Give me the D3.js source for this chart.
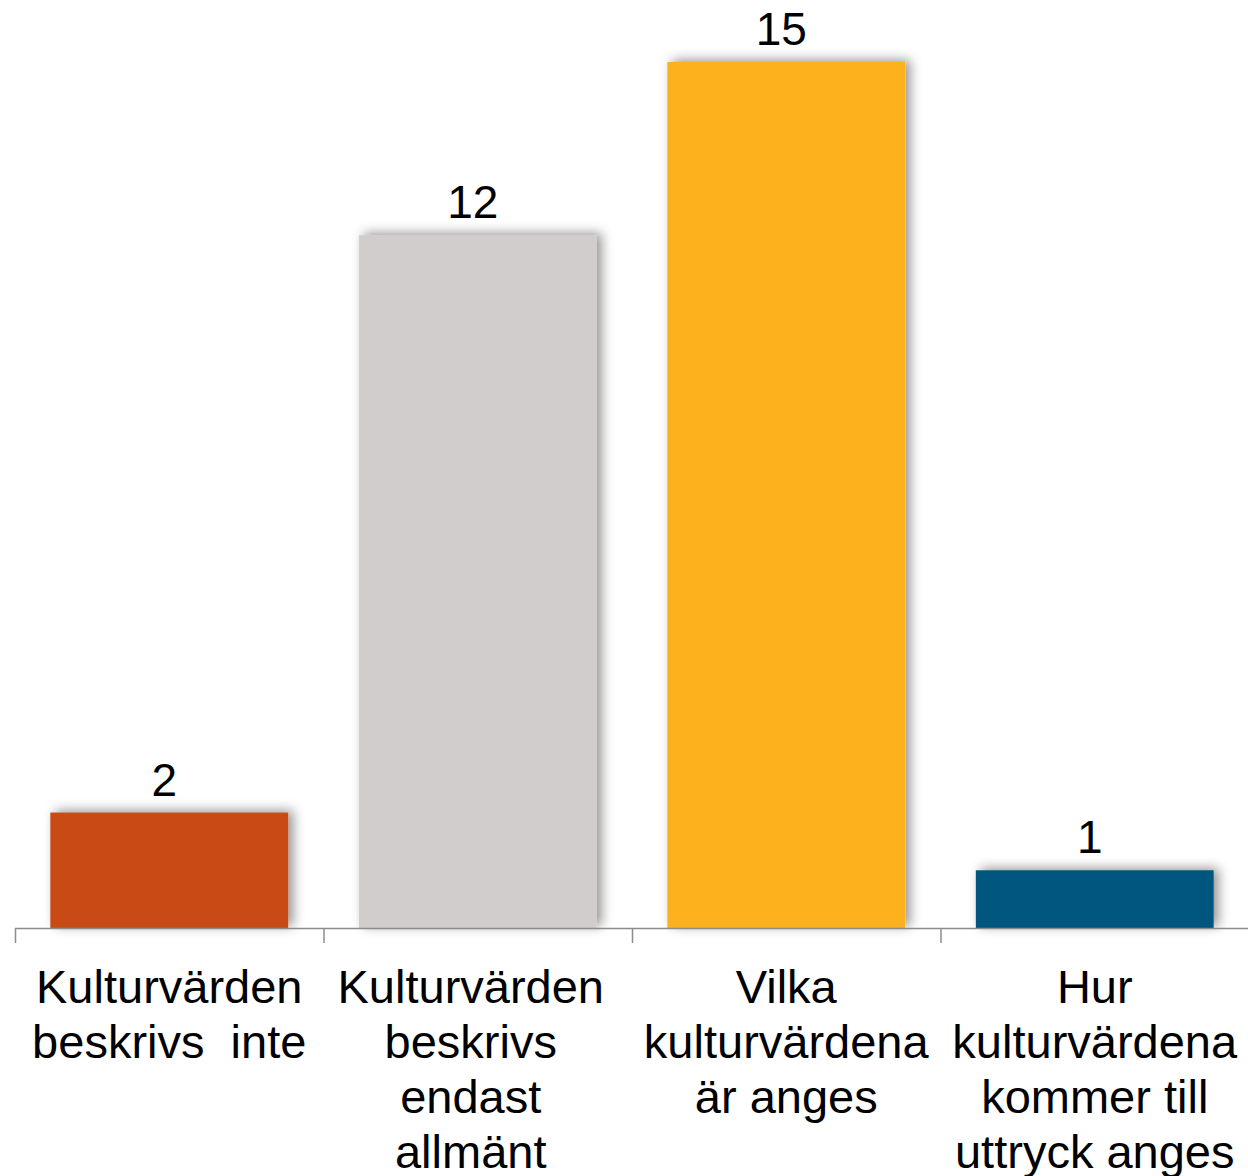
<!DOCTYPE html>
<html lang="sv">
<head>
<meta charset="UTF-8">
<script src="https://d3js.org/d3.v7.min.js"></script>
<style>
  body { margin: 0; background: #fff; font-family: "Liberation Sans", Arial, Helvetica, sans-serif; }
  svg text { white-space: pre; }
</style>
</head>
<body>
<svg id="vis"></svg>
<script>
const categories = [
  ["Kulturvärden", "beskrivs  inte"],
  ["Kulturvärden", "beskrivs", "endast", "allmänt"],
  ["Vilka", "kulturvärdena", "är anges"],
  ["Hur", "kulturvärdena", "kommer till", "uttryck anges"]
];
const values = [2, 12, 15, 1];
const colors = ["#C84B19", "#D1CDCC", "#FDB11E", "#03577F"];

const width = 1248, height = 1176;
const svg = d3.select("#vis").attr("width", width).attr("height", height);

const defs = svg.append("defs");
const f = defs.append("filter").attr("id", "shadow")
  .attr("x", "-20%").attr("y", "-20%").attr("width", "140%").attr("height", "140%");
f.append("feDropShadow").attr("dx", 5).attr("dy", -2).attr("stdDeviation", 6)
  .attr("flood-color", "#000").attr("flood-opacity", 0.42);

const x = d3.scaleBand()
  .domain(d3.range(values.length))
  .range([15, 1249])
  .paddingInner(0.229)
  .paddingOuter(0.1145);
const y = d3.scaleLinear().domain([0, 15]).range([928, 62]);

// bars
svg.append("g").selectAll("rect")
  .data(values)
  .join("rect")
  .attr("x", (d, i) => x(i))
  .attr("y", d => y(d))
  .attr("width", x.bandwidth())
  .attr("height", d => y(0) - y(d))
  .attr("fill", (d, i) => colors[i])
  .attr("filter", "url(#shadow)");

// axis line + ticks
const step = x.step();
const axis = svg.append("g").attr("stroke", "#8c8c8c").attr("stroke-width", 1.5);
axis.append("line").attr("x1", 15).attr("x2", 1249).attr("y1", y(0) + 0.5).attr("y2", y(0) + 0.5);
axis.selectAll("line.tick")
  .data(d3.range(values.length + 1))
  .join("line")
  .attr("class", "tick")
  .attr("x1", i => 15.5 + i * step).attr("x2", i => 15.5 + i * step)
  .attr("y1", y(0)).attr("y2", y(0) + 15);

// value labels
svg.append("g").selectAll("text")
  .data(values)
  .join("text")
  .attr("x", (d, i) => x(i) + x.bandwidth() / 2 - 5)
  .attr("y", d => y(d) - 17)
  .attr("text-anchor", "middle")
  .attr("font-size", 46)
  .attr("fill", "#000")
  .text(d => d);

// category labels (second one sits a bit left in the original)
const labelShift = [0, -7, 0, 0];
const lab = svg.append("g").selectAll("text")
  .data(categories)
  .join("text")
  .attr("text-anchor", "middle")
  .attr("font-size", 47)
  .attr("fill", "#000");
lab.selectAll("tspan")
  .data((d, i) => d.map(t => ({ t, i })))
  .join("tspan")
  .attr("x", d => x(d.i) + x.bandwidth() / 2 + labelShift[d.i])
  .attr("y", (d, j) => 1003 + j * 55)
  .text(d => d.t);
</script>
</body>
</html>
